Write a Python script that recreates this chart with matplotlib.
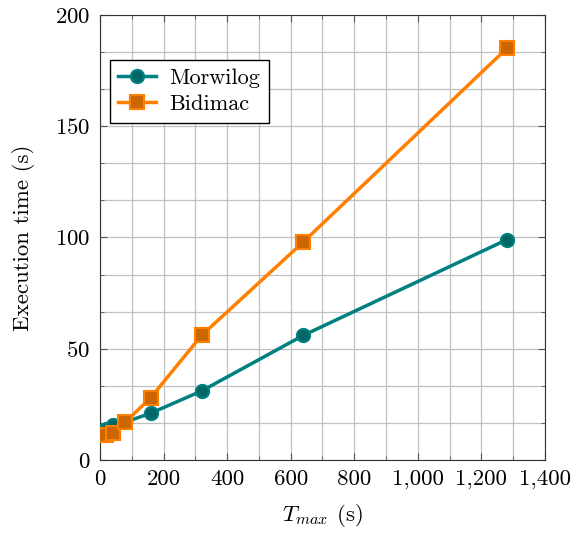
import matplotlib.pyplot as plt
from matplotlib.ticker import MultipleLocator, FuncFormatter

# Tmax values (s)
tmax = [20, 40, 80, 160, 320, 640, 1280]
# execution times (s)
morwilog = [14, 15.5, 17, 21, 31, 56, 99]
bidimac = [11, 12, 17, 28, 56, 98, 185]

plt.rcParams['font.family'] = 'serif'
plt.rcParams['font.serif'] = ['cmr10']
plt.rcParams['mathtext.fontset'] = 'cm'
plt.rcParams['axes.formatter.use_mathtext'] = True

teal = '#008080'
orange = '#ff8000'

fig = plt.figure(figsize=(5.81, 5.36), dpi=100)
ax = fig.add_axes([0.172, 0.142, 0.766, 0.830])

ax.plot(tmax, morwilog, color=teal, lw=2.5, marker='o', ms=9.5,
        mfc='#006666', mec=teal, mew=1.5, label='Morwilog', zorder=3)
ax.plot(tmax, bidimac, color=orange, lw=2.5, marker='s', ms=9.5,
        mfc='#cc6600', mec=orange, mew=1.5, label='Bidimac', zorder=3)

ax.set_xlim(0, 1400)
ax.set_ylim(0, 200)
ax.xaxis.set_major_locator(MultipleLocator(200))
ax.xaxis.set_minor_locator(MultipleLocator(100))
ax.yaxis.set_major_locator(MultipleLocator(50))
ax.yaxis.set_minor_locator(MultipleLocator(50 / 3))
ax.xaxis.set_major_formatter(FuncFormatter(lambda v, p: f'{int(v):,}'))

ax.grid(which='both', color='#c0c0c0', lw=0.9)
ax.set_axisbelow(True)
ax.tick_params(which='both', direction='in', top=True, right=True,
               labelsize=16.5, color='#555555', pad=7)
ax.tick_params(which='major', length=5)
ax.tick_params(which='minor', length=3)
for s in ax.spines.values():
    s.set_color('#333333')

ax.set_xlabel(r'$T_{max}$ (s)', fontsize=16.5, labelpad=9)
ax.set_ylabel('Execution time (s)', fontsize=16.5, labelpad=14)

leg = ax.legend(loc='upper left', bbox_to_anchor=(0.022, 0.899), fontsize=16,
                fancybox=False, framealpha=1, edgecolor='black',
                handlelength=1.7, handletextpad=0.6, borderpad=0.38,
                labelspacing=0.3, borderaxespad=0)
leg.get_frame().set_linewidth(1.0)

fig.savefig('out.png', dpi=100)
